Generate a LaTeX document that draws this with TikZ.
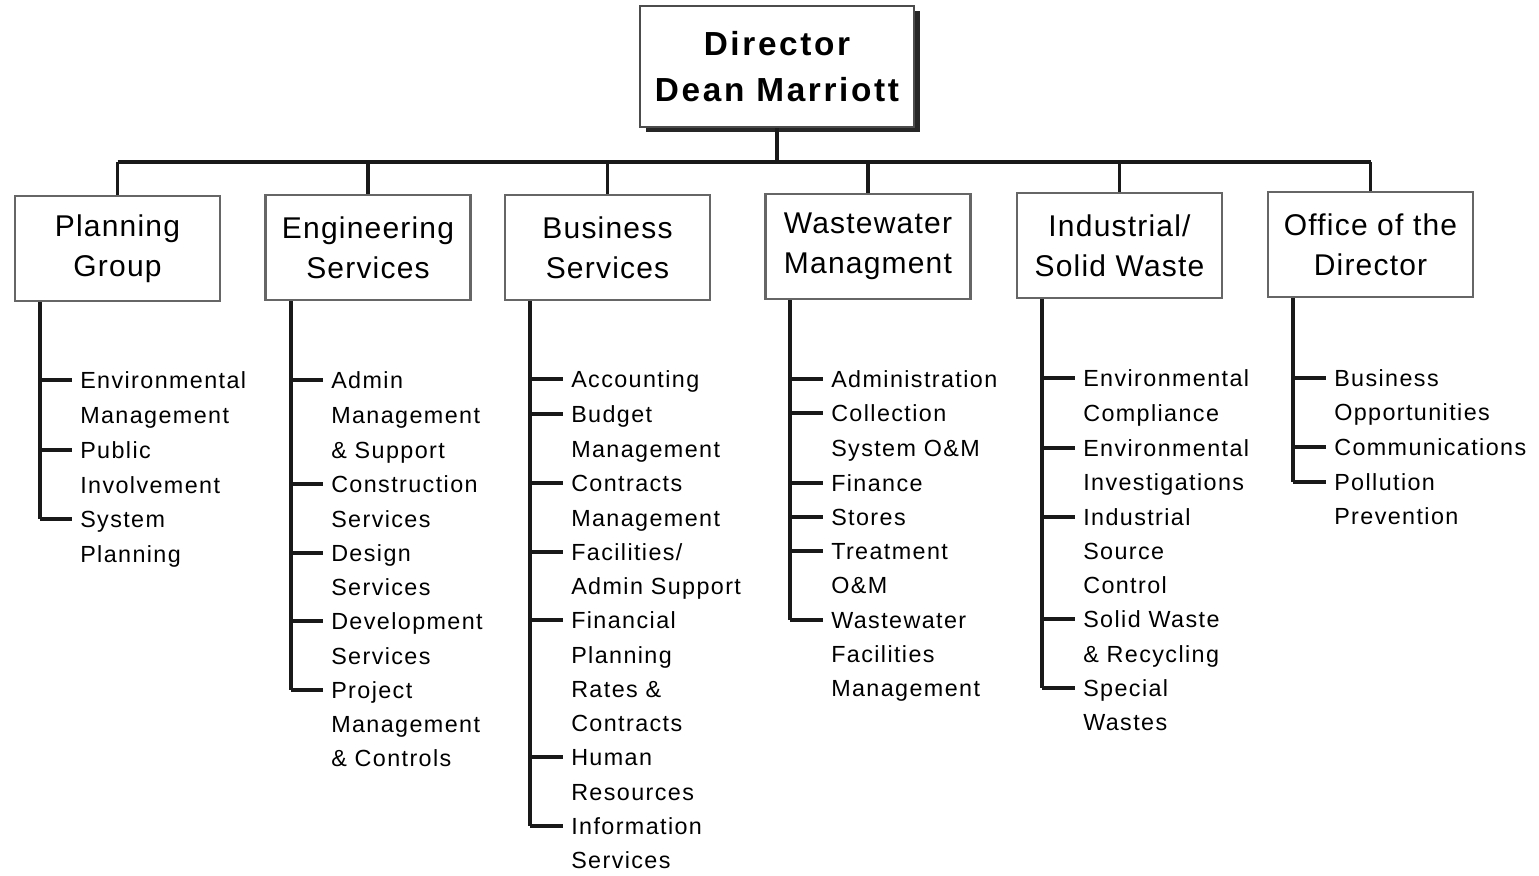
\documentclass[tikz,border=0pt]{standalone}
\usepackage{fontspec}
\setmainfont{Liberation Sans}
\newfontfamily\itemfont[LetterSpace=6]{Liberation Sans}
\newfontfamily\headfont[LetterSpace=4]{Liberation Sans}
\newfontfamily\dirfont[LetterSpace=8]{Liberation Sans}
\usetikzlibrary{shadows}
\begin{document}
\begin{tikzpicture}[x=0.75pt,y=-0.75pt,
  conn/.style={line width=2.4pt,black!90},
  dept/.style={draw=black!60,line width=1.8pt,fill=white,inner sep=0pt,
    minimum width=153.75pt,minimum height=78.75pt,align=center,
    font=\headfont\fontsize{22.5}{30}\selectfont},
  chief/.style={draw=black!70,line width=1.8pt,fill=white,inner sep=0pt,
    minimum width=205.5pt,minimum height=90.75pt,align=center,
    font=\dirfont\bfseries\fontsize{25}{34.5}\selectfont,
    drop shadow={shadow xshift=4.5pt,shadow yshift=-4pt,fill=black!85,opacity=1}},
  item/.style={anchor=west,inner xsep=6pt,inner ysep=0pt,text height=12.5pt,text depth=0pt,
    font=\itemfont\fontsize{17.5}{26}\selectfont}]
\useasboundingbox (0,0) rectangle (1539,875);

% top of the chart
\node[chief] (dir) at (777,66.5) {Director\\Dean Marriott};

% departments
\node[dept] (pg) at (117.5,248.5) {Planning\\Group};
\node[dept] (es) at (368,247.5) {Engineering\\Services};
\node[dept] (bs) at (607.5,247.5) {Business\\Services};
\node[dept] (ww) at (868,246.5) {Wastewater\\Managment};
\node[dept] (is) at (1119.5,245.5) {Industrial/\\Solid Waste};
\node[dept] (od) at (1370.5,244.5) {Office of the\\Director};

% bus linking director and departments
\coordinate (bus) at (0,162);
\draw[conn] (dir.south) -- (dir.south |- bus);
\draw[conn] (pg.north |- bus) -- (od.north |- bus);
\foreach \d in {pg,es,bs,ww,is,od}
  \draw[conn] (\d.north) -- (\d.north |- bus);

% trunk positions
\coordinate (pgt) at (40,0);
\coordinate (est) at (291,0);
\coordinate (bst) at (530,0);
\coordinate (wwt) at (790,0);
\coordinate (ist) at (1042,0);
\coordinate (odt) at (1293,0);

% Planning Group sections
\foreach \y/\txt/\tk [count=\i] in {380/Environmental/1,415/Management/0,450/Public/1,
    485/Involvement/0,519/System/1,554/Planning/0}{
  \node[item] (pl\i) at (72,\y) {\txt};
  \ifnum\tk=1 \draw[conn] (pl\i.west -| pgt) -- (pl\i.west);\fi}
\draw[conn] (pg.south -| pgt) -- (pl5.west -| pgt);

% Engineering Services sections
\foreach \y/\txt/\tk [count=\i] in {380/Admin/1,415/Management/0,450/\& Support/0,
    484/Construction/1,519/Services/0,553/Design/1,587/Services/0,621/Development/1,
    656/Services/0,690/Project/1,724/Management/0,758/\& Controls/0}{
  \node[item] (el\i) at (323,\y) {\txt};
  \ifnum\tk=1 \draw[conn] (el\i.west -| est) -- (el\i.west);\fi}
\draw[conn] (es.south -| est) -- (el10.west -| est);

% Business Services sections
\foreach \y/\txt/\tk [count=\i] in {379/Accounting/1,414/Budget/1,449/Management/0,
    483/Contracts/1,518/Management/0,552/Facilities\slash/1,586/Admin Support/0,
    620/Financial/1,655/Planning/0,689/Rates \&/0,723/Contracts/0,757/Human/1,
    792/Resources/0,826/Information/1,860/Services/0}{
  \node[item] (bl\i) at (563,\y) {\txt};
  \ifnum\tk=1 \draw[conn] (bl\i.west -| bst) -- (bl\i.west);\fi}
\draw[conn] (bs.south -| bst) -- (bl14.west -| bst);

% Wastewater Managment sections
\foreach \y/\txt/\tk [count=\i] in {379/Administration/1,413/Collection/1,448/System O\&M/0,
    483/Finance/1,517/Stores/1,551/Treatment/1,585/O\&M/0,620/Wastewater/1,
    654/Facilities/0,688/Management/0}{
  \node[item] (wl\i) at (823,\y) {\txt};
  \ifnum\tk=1 \draw[conn] (wl\i.west -| wwt) -- (wl\i.west);\fi}
\draw[conn] (ww.south -| wwt) -- (wl8.west -| wwt);

% Industrial/Solid Waste sections
\foreach \y/\txt/\tk [count=\i] in {378/Environmental/1,413/Compliance/0,448/Environmental/1,
    482/Investigations/0,517/Industrial/1,551/Source/0,585/Control/0,619/Solid Waste/1,
    654/\& Recycling/0,688/Special/1,722/Wastes/0}{
  \node[item] (il\i) at (1075,\y) {\txt};
  \ifnum\tk=1 \draw[conn] (il\i.west -| ist) -- (il\i.west);\fi}
\draw[conn] (is.south -| ist) -- (il10.west -| ist);

% Office of the Director sections
\foreach \y/\txt/\tk [count=\i] in {378/Business/1,412/Opportunities/0,447/Communications/1,
    482/Pollution/1,516/Prevention/0}{
  \node[item] (ol\i) at (1326,\y) {\txt};
  \ifnum\tk=1 \draw[conn] (ol\i.west -| odt) -- (ol\i.west);\fi}
\draw[conn] (od.south -| odt) -- (ol4.west -| odt);
\end{tikzpicture}
\end{document}
